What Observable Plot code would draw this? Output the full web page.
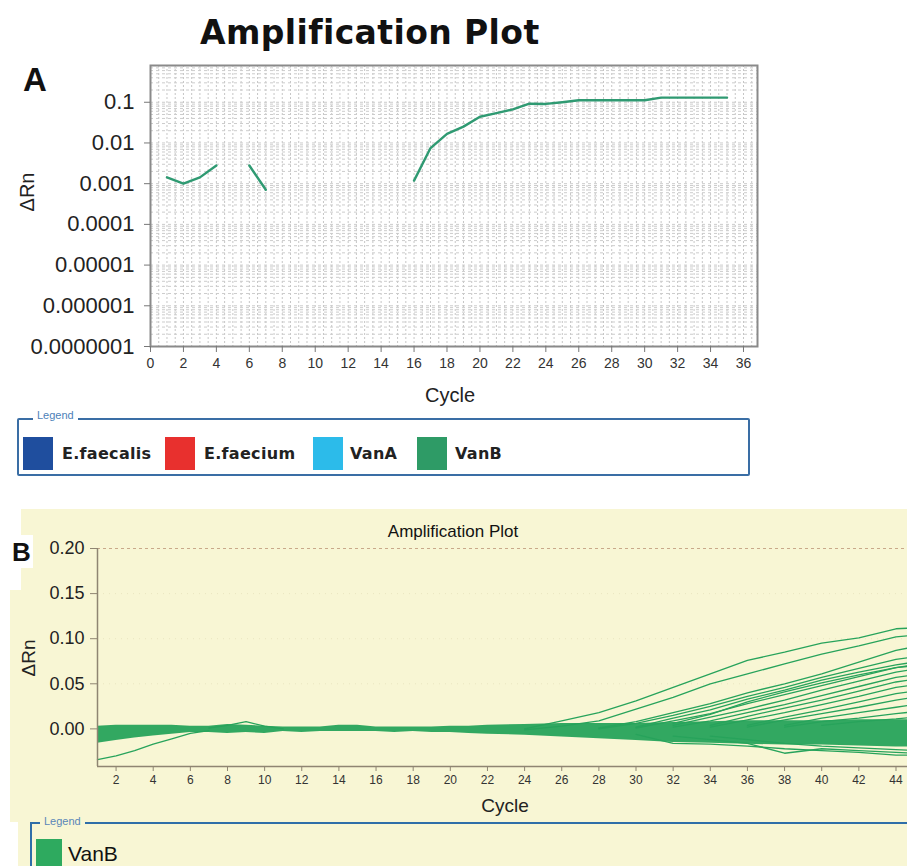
<!DOCTYPE html>
<html><head><meta charset="utf-8">
<script src="https://cdn.jsdelivr.net/npm/d3@7"></script>
<script src="https://cdn.jsdelivr.net/npm/@observablehq/plot@0.6"></script>
<style>
body{margin:0;background:#fff;}
#wrap{position:relative;width:907px;height:866px;overflow:hidden;background:#fff;font-family:Arial,"Liberation Sans",sans-serif;color:#111;}
.abs{position:absolute;white-space:nowrap;line-height:1;}
</style></head><body><div id="wrap"></div>
<script>
// ---------- Panel A data (log-scale amplification, VanB) ----------
const aCycles = [1,2,3,4,5,6,7,8,9,10,11,12,13,14,15,16,17,18,19,20,21,22,23,24,25,26,27,28,29,30,31,32,33,34,35];
const aVanB   = [0.00143,0.00100,0.00143,0.0028,null,0.0028,0.00071,null,null,null,null,null,null,null,null,
                 0.00119,0.0075,0.0167,0.0252,0.044,0.054,0.067,0.092,0.091,0.100,0.112,0.112,0.112,0.112,0.112,
                 0.130,0.130,0.130,0.130,0.130];
const aXTicks = [0,2,4,6,8,10,12,14,16,18,20,22,24,26,28,30,32,34,36];
const aYTicks = [1e-7,1e-6,1e-5,1e-4,1e-3,1e-2,1e-1];
const aYTickLabels = ["0.0000001","0.000001","0.00001","0.0001","0.001","0.01","0.1"];
const aLegendNames = ["E.faecalis","E.faecium","VanA","VanB"];
const aLegendColors = ["#1f4e9e","#e8302e","#2cbbea","#2e9b66"];

// ---------- Panel B data (linear ΔRn, many VanB wells) ----------
const bandCycles = [1,2,3,4,5,6,7,8,9,10,11,12,13,14,15,16,17,18,19,20,21,22,24,26,28,30,32,34,36,38,40,42,44,45];
const bandLow  = [-0.016,-0.013,-0.010,-0.008,-0.006,-0.004,-0.004,-0.005,-0.004,-0.005,-0.003,-0.004,-0.003,-0.003,-0.003,-0.003,-0.004,-0.003,-0.004,-0.004,-0.005,-0.006,-0.007,-0.009,-0.011,-0.013,-0.015,-0.016,-0.017,-0.018,-0.018,-0.019,-0.020,-0.020];
const bandHigh = [0.003,0.004,0.004,0.004,0.004,0.003,0.003,0.005,0.004,0.003,0.002,0.002,0.002,0.004,0.004,0.002,0.002,0.002,0.002,0.003,0.003,0.004,0.005,0.006,0.006,0.006,0.007,0.008,0.009,0.009,0.009,0.010,0.010,0.010];
const riseCycles = [24,26,28,30,32,34,36,38,40,42,44,45];
const riseCurves = [
  [0.000,0.009,0.018,0.031,0.046,0.061,0.076,0.085,0.095,0.101,0.111,0.112],
  [-0.001,0.003,0.009,0.022,0.035,0.050,0.061,0.072,0.083,0.092,0.102,0.104],
  [null,null,0.001,0.008,0.018,0.028,0.040,0.050,0.061,0.074,0.087,0.091],
  [null,null,0.000,0.006,0.015,0.025,0.036,0.046,0.057,0.067,0.077,0.080],
  [null,null,null,0.002,0.012,0.021,0.033,0.043,0.054,0.063,0.071,0.074],
  [null,null,null,0.001,0.009,0.017,0.028,0.038,0.048,0.058,0.068,0.070],
  [null,null,null,null,0.006,0.016,0.030,0.041,0.051,0.060,0.068,0.071],
  [null,null,null,null,0.004,0.013,0.022,0.032,0.043,0.053,0.063,0.066],
  [null,null,null,null,0.002,0.009,0.018,0.027,0.037,0.047,0.057,0.060],
  [null,null,null,null,null,0.004,0.014,0.023,0.032,0.042,0.052,0.055],
  [null,null,null,null,null,0.002,0.010,0.018,0.027,0.036,0.046,0.049],
  [null,null,null,null,null,null,0.004,0.013,0.021,0.030,0.039,0.042],
  [null,null,null,null,null,null,0.002,0.010,0.017,0.024,0.032,0.035],
  [null,null,null,null,null,null,null,0.004,0.012,0.018,0.024,0.027],
  [null,null,null,null,null,null,null,0.002,0.008,0.012,0.017,0.019],
  [null,null,null,null,null,null,null,null,0.004,0.008,0.011,0.013],
  [null,null,null,-0.006,-0.016,-0.017,-0.019,-0.022,-0.024,-0.026,-0.029,-0.029],
  [null,null,null,null,-0.008,-0.012,-0.016,-0.027,-0.022,-0.024,-0.026,-0.027],
  [null,null,null,null,null,-0.008,-0.012,-0.016,-0.019,-0.021,-0.023,-0.024]
];
const lowCycles = [1,2,3,4,5,6,7];
const lowValues = [-0.034,-0.030,-0.024,-0.017,-0.011,-0.005,-0.002];
const spikeCycles = [7,8,9,10,11];
const spikeValues = [0.001,0.004,0.008,0.003,0.000];
const bXTicks = [2,4,6,8,10,12,14,16,18,20,22,24,26,28,30,32,34,36,38,40,42,44];
const bYTicks = [0,0.05,0.10,0.15,0.20];
const bYMin = -0.0417, bYMax = 0.20;
const bXMin = 1, bXMax = 44.62;

const wrap = document.getElementById("wrap");
function addDiv(html, style) {
  const d = document.createElement("div");
  d.className = "abs"; d.innerHTML = html; Object.assign(d.style, style); wrap.appendChild(d); return d;
}

// ---------- Panel A plot ----------
const aData = aCycles.map((c, i) => ({cycle: c, value: aVanB[i]}));
const aGridX = d3.range(0.5, 36.8, 0.5);
const aGridY = [];
for (let e = -7; e <= -1; e++) for (let m = 1; m <= 9; m++) { const v = m * Math.pow(10, e); if (v <= 0.8) aGridY.push(v); }
const fmtA = d => aYTickLabels[aYTicks.findIndex(t => Math.abs(Math.log10(t) - Math.log10(d)) < 0.01)];

const plotA = Plot.plot({
  width: 907, height: 420,
  marginLeft: 150, marginRight: 150, marginTop: 65, marginBottom: 74,
  style: {background: "transparent", fontFamily: "Arial, 'Liberation Sans', sans-serif"},
  x: {domain: [0, 36.85]},
  y: {type: "log", domain: [1e-7, 0.8]},
  marks: [
    Plot.ruleX(aGridX, {stroke: "#c6c6c6", strokeDasharray: "2,2", strokeWidth: 1}),
    Plot.ruleY(aGridY, {stroke: "#cccccc", strokeDasharray: "3,3", strokeWidth: 1}),
    Plot.line(aData, {x: "cycle", y: "value", stroke: "#2f9a72", strokeWidth: 2.4}),
    Plot.frame({stroke: "#8a8a8a", strokeWidth: 2}),
    Plot.axisX({ticks: aXTicks, tickSize: 6, tickPadding: 6, fontSize: 14, label: null, stroke: "#777", fill: "#333"}),
    Plot.axisY({ticks: aYTicks, tickFormat: fmtA, tickSize: 6, tickPadding: 10, fontSize: 22, label: null, stroke: "#777", fill: "#222"})
  ]
});
Object.assign(plotA.style, {position: "absolute", left: "0px", top: "0px"});
wrap.appendChild(plotA);

// Panel A texts
addDiv("Amplification Plot", {left: "200px", top: "16px", fontFamily: "'DejaVu Sans', sans-serif", fontWeight: "bold", fontSize: "33px", letterSpacing: "0.4px", color: "#111"});
addDiv("A", {left: "23px", top: "63px", fontWeight: "bold", fontSize: "33px", color: "#111"});
addDiv("Cycle", {left: "450px", top: "395px", transform: "translate(-50%,-50%)", fontSize: "20px", color: "#222"});
addDiv("ΔRn", {left: "27px", top: "192px", transform: "translate(-50%,-50%) rotate(-90deg)", fontSize: "20px", color: "#222"});

// Panel A legend
addDiv("", {left: "17px", top: "418px", width: "729px", height: "54px", border: "2px solid #3a6ea5", borderRadius: "2px"});
addDiv("Legend", {left: "33px", top: "410px", fontSize: "11px", color: "#4d7fb8", background: "#fff", padding: "0 4px"});
const aSwX = [23, 165, 313, 417];
const aTxX = [62, 204, 350, 455];
aLegendNames.forEach((n, i) => {
  addDiv("", {left: aSwX[i] + "px", top: "437px", width: "30px", height: "33px", background: aLegendColors[i]});
  addDiv(n, {left: aTxX[i] + "px", top: "454px", transform: "translateY(-50%)", fontFamily: "'DejaVu Sans', sans-serif", fontWeight: "bold", fontSize: "16px", letterSpacing: "0.3px", color: "#222"});
});

// ---------- Panel B backgrounds ----------
const yellow = "#f8f6d4";
addDiv("", {left: "21px", top: "509px", width: "886px", height: "313px", background: yellow});
addDiv("", {left: "10px", top: "590px", width: "11px", height: "232px", background: yellow});
addDiv("", {left: "18px", top: "822px", width: "889px", height: "44px", background: yellow});
addDiv("", {left: "0px", top: "535px", width: "33px", height: "33px", background: "#fff"});

// ---------- Panel B plot ----------
const green = "#27a35b";
const bandData = bandCycles.map((c, i) => ({cycle: c, low: bandLow[i], high: bandHigh[i]}));
const riseData = [];
riseCurves.forEach((vals, k) => vals.forEach((v, i) => { if (v !== null) riseData.push({id: k, cycle: riseCycles[i], value: v}); }));
const lowData = lowCycles.map((c, i) => ({cycle: c, value: lowValues[i]}));
const spikeData = spikeCycles.map((c, i) => ({cycle: c, value: spikeValues[i]}));

const plotB = Plot.plot({
  width: 907, height: 313,
  marginLeft: 97, marginRight: 0, marginTop: 39, marginBottom: 56,
  style: {background: "transparent", fontFamily: "Arial, 'Liberation Sans', sans-serif", overflow: "hidden"},
  x: {domain: [bXMin, bXMax]},
  y: {domain: [bYMin, bYMax]},
  marks: [
    Plot.ruleY([0.05, 0.10, 0.15], {stroke: "#e9e5c0", strokeDasharray: "1,5"}),
    Plot.ruleY([bYMax], {stroke: "#c9a98a", strokeDasharray: "3,3", strokeWidth: 1}),
    Plot.areaY(bandData, {x: "cycle", y1: "low", y2: "high", fill: green, fillOpacity: 0.95}),
    Plot.line(riseData, {x: "cycle", y: "value", z: "id", stroke: green, strokeWidth: 1.3}),
    Plot.line(lowData, {x: "cycle", y: "value", stroke: green, strokeWidth: 1.3}),
    Plot.line(spikeData, {x: "cycle", y: "value", stroke: green, strokeWidth: 1.3}),
    Plot.ruleX([bXMin], {stroke: "#8f8572", strokeWidth: 1.5}),
    Plot.ruleY([bYMin], {stroke: "#8f8572", strokeWidth: 1.5}),
    Plot.axisX({ticks: bXTicks, tickSize: 5, tickPadding: 4, fontSize: 12, label: null, stroke: "#8f8572", fill: "#333"}),
    Plot.axisY({ticks: bYTicks, tickFormat: d3.format(".2f"), tickSize: 7, tickPadding: 6, fontSize: 18, label: null, stroke: "#8f8572", fill: "#222"})
  ]
});
Object.assign(plotB.style, {position: "absolute", left: "0px", top: "509px"});
wrap.appendChild(plotB);

// Panel B texts
addDiv("Amplification Plot", {left: "453px", top: "531px", transform: "translate(-50%,-50%)", fontSize: "17px", color: "#111"});
addDiv("B", {left: "12px", top: "539px", fontWeight: "bold", fontSize: "26px", color: "#111"});
addDiv("Cycle", {left: "505px", top: "805px", transform: "translate(-50%,-50%)", fontSize: "19px", color: "#222"});
addDiv("ΔRn", {left: "28px", top: "658px", transform: "translate(-50%,-50%) rotate(-90deg)", fontSize: "19px", color: "#222"});

// Panel B legend
addDiv("", {left: "30px", top: "822px", width: "900px", height: "100px", borderTop: "2px solid #2f6ea8", borderLeft: "2px solid #2f6ea8"});
addDiv("Legend", {left: "40px", top: "816px", fontSize: "11px", color: "#5a86b8", background: yellow, padding: "0 4px"});
addDiv("", {left: "36px", top: "839px", width: "26px", height: "27px", background: "#2eaa5f"});
addDiv("VanB", {left: "68px", top: "853px", transform: "translateY(-50%)", fontSize: "21px", color: "#111"});
</script></body></html>
